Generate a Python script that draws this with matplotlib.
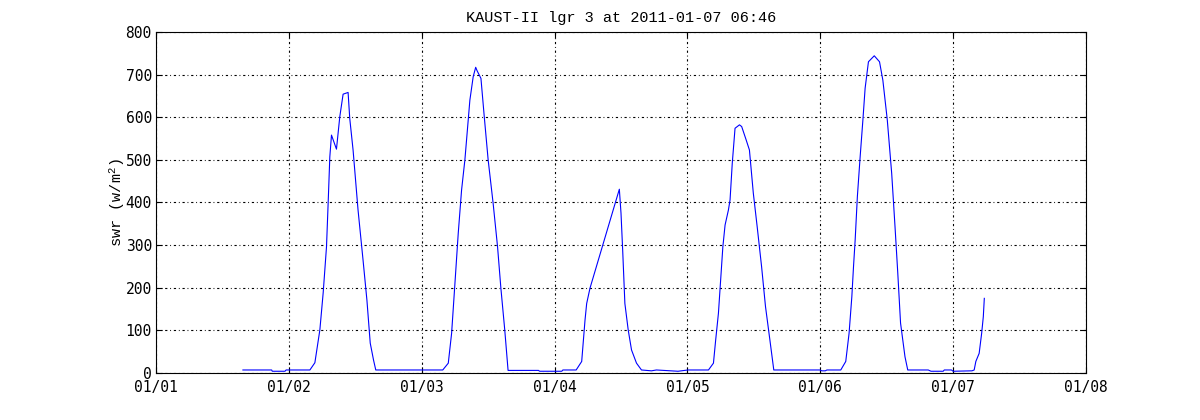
"""Shortwave radiation time series, KAUST-II logger 3 (MATLAB-style look)."""

import datetime as dt

import matplotlib

matplotlib.use("Agg")
import matplotlib.dates as mdates  # noqa: E402
import matplotlib.pyplot as plt  # noqa: E402

plt.rcParams["mathtext.fontset"] = "custom"
plt.rcParams["mathtext.rm"] = "Liberation Mono"
plt.rcParams["mathtext.it"] = "Liberation Mono"

# hours since 2011-01-01 00:00
hours = [
    15.7, 20.9, 21.0, 23.3, 23.5, 27.8, 28.7, 29.6, 30.2, 30.8, 31.1, 31.4, 31.7,
    32.6, 33.2, 33.8, 34.7, 35.0, 35.6, 36.5, 37.4, 38.1, 38.7, 39.3, 39.7,
    51.8, 52.8, 53.4, 54.0, 54.6, 55.2, 55.8, 56.7, 57.3, 57.75, 58.0, 58.7,
    59.3, 60.0, 60.9, 61.7, 62.3, 63.0, 63.6, 69.1, 69.3, 73.3, 73.5, 75.9,
    76.9, 77.5, 77.8, 78.4, 83.7, 84.0, 84.3, 84.7, 85.3, 85.9, 86.8, 87.7,
    89.5, 90.4, 94.3, 96.1, 99.8,
    100.7, 101.1, 101.6, 102.0, 102.4, 102.8, 103.4, 103.7, 104.1, 104.6,
    105.4, 105.8, 106.6, 107.2, 107.9, 108.6, 109.4, 110.1, 110.9, 111.6,
    119.9, 120.3, 120.9, 121.2, 123.7,
    124.6, 125.2, 125.7, 126.0, 126.3, 126.7, 127.2, 127.7, 128.1, 128.7,
    129.75, 130.7, 131.3, 132.1, 132.9, 133.5, 134.0, 134.5, 135.3, 135.8,
    139.5, 140.0, 142.2, 142.4, 143.7, 144.0, 147.4, 147.8,
    148.1, 148.7, 149.15, 149.45, 149.63,
]
swr = [
    7, 7, 4, 4, 7, 7, 24, 101, 188, 296, 399, 507, 558,
    525, 601, 654, 658, 597, 523, 382, 265, 171, 70, 30, 7,
    7, 23, 93, 210, 328, 429, 500, 640, 695, 717, 709, 691,
    601, 500, 398, 296, 199, 101, 6, 6, 4, 4, 7, 7,
    27, 124, 163, 199, 431, 375, 289, 163, 101, 54, 23, 7,
    5, 7, 4, 7, 7,
    23, 77, 140, 218, 296, 347, 382, 406, 492, 574,
    582, 578, 547, 523, 422, 343, 249, 156, 77, 7,
    7, 5, 5, 7, 7,
    27, 93, 179, 249, 312, 414, 507, 594, 668, 730,
    744, 730, 687, 594, 468, 343, 234, 117, 38, 7,
    7, 4, 4, 7, 7, 4, 5, 7,
    27, 46, 93, 132, 175,
]
yticks = [0, 100, 200, 300, 400, 500, 600, 700, 800]

start = dt.datetime(2011, 1, 1)
times = [start + dt.timedelta(hours=h) for h in hours]
days = [start + dt.timedelta(days=d) for d in range(8)]

fig = plt.figure(figsize=(12, 4.2), dpi=100, facecolor="white")
ax = fig.add_axes([0.13, 0.112, 0.775, 0.812])

ax.plot(times, swr, color="#0000ff", lw=0.8)

ax.set_xlim(days[0], days[-1])
ax.set_ylim(0, 800)
ax.set_xticks(days)
ax.xaxis.set_major_formatter(mdates.DateFormatter("%m/%d"))
ax.set_yticks(yticks)

ax.grid(True, color="black", lw=0.8, linestyle=(0, (2, 2.5, 0.8, 2.5)))
ax.tick_params(direction="in", top=True, right=True, length=4, width=0.8,
               labelsize=10.5)
ax.tick_params(axis="x", pad=5)
ax.tick_params(axis="y", pad=3)
for lab in ax.get_xticklabels() + ax.get_yticklabels():
    lab.set_fontfamily("DejaVu Sans Mono")
for s in ax.spines.values():
    s.set_linewidth(0.8)

ax.set_title("KAUST-II lgr 3 at 2011-01-07 06:46", fontfamily="Liberation Mono",
             fontsize=11, pad=7)
ax.set_ylabel(r"swr (w/m$^2$)", fontfamily="Liberation Mono", fontsize=11, labelpad=-1)

fig.savefig("out.png", dpi=100, facecolor="white")
